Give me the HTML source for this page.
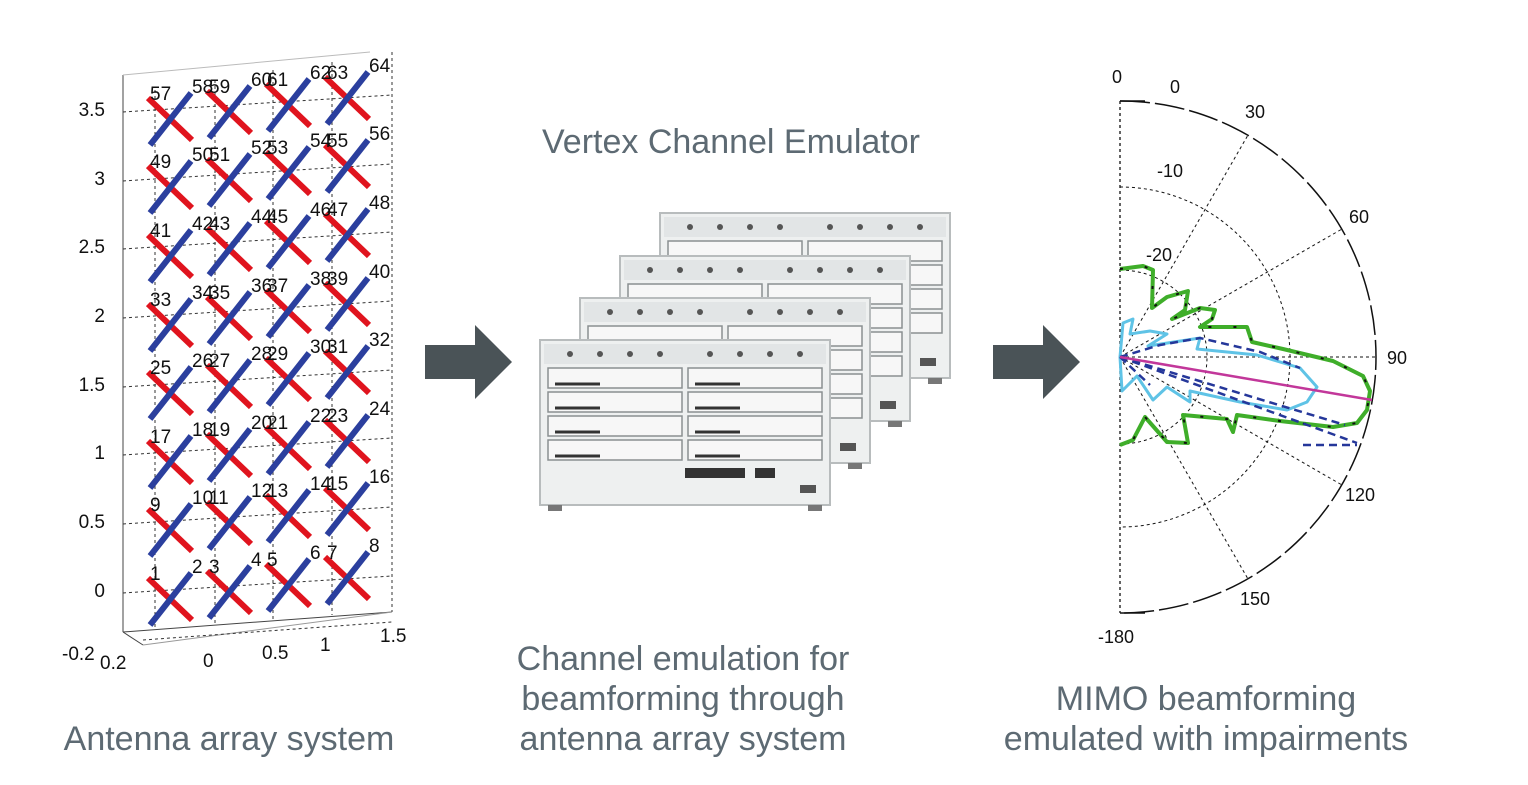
<!DOCTYPE html>
<html><head><meta charset="utf-8"><style>
html,body{margin:0;padding:0;background:#fff;}
svg{display:block;}
.cap{font-family:"Liberation Sans",sans-serif;fill:#5d6a73;font-size:34px;}
.ax{font-family:"Liberation Sans",sans-serif;fill:#111;font-size:19px;}
.pl{font-family:"Liberation Sans",sans-serif;fill:#111;font-size:18px;}
</style></head><body>
<svg width="1528" height="785" viewBox="0 0 1528 785" xmlns="http://www.w3.org/2000/svg">
<defs>
<g id="x">
<line x1="-22" y1="-21" x2="22" y2="21" stroke="#e0141e" stroke-width="6"/>
<line x1="-20" y1="26" x2="21" y2="-26" stroke="#2b3f9e" stroke-width="6"/>
</g>
<g id="chassis">
<rect x="0" y="0" width="290" height="165" fill="#eef0f0" stroke="#b8bcbd" stroke-width="2"/>
<rect x="4" y="4" width="282" height="20" fill="#e2e5e6"/>
<g stroke="#8a8f91" stroke-width="1.5" fill="#f7f7f7">
<rect x="8" y="28" width="134" height="20"/><rect x="148" y="28" width="134" height="20"/>
<rect x="8" y="52" width="134" height="20"/><rect x="148" y="52" width="134" height="20"/>
<rect x="8" y="76" width="134" height="20"/><rect x="148" y="76" width="134" height="20"/>
<rect x="8" y="100" width="134" height="20"/><rect x="148" y="100" width="134" height="20"/>
</g>
<g fill="#555"><circle cx="30" cy="14" r="3"/><circle cx="60" cy="14" r="3"/><circle cx="90" cy="14" r="3"/><circle cx="120" cy="14" r="3"/><circle cx="170" cy="14" r="3"/><circle cx="200" cy="14" r="3"/><circle cx="230" cy="14" r="3"/><circle cx="260" cy="14" r="3"/></g>
<g stroke="#333" stroke-width="3"><line x1="15" y1="44" x2="60" y2="44"/><line x1="155" y1="44" x2="200" y2="44"/><line x1="15" y1="68" x2="60" y2="68"/><line x1="155" y1="68" x2="200" y2="68"/><line x1="15" y1="92" x2="60" y2="92"/><line x1="155" y1="92" x2="200" y2="92"/><line x1="15" y1="116" x2="60" y2="116"/><line x1="155" y1="116" x2="200" y2="116"/></g>
<rect x="145" y="128" width="60" height="10" fill="#333"/><rect x="215" y="128" width="20" height="10" fill="#333"/>
<rect x="260" y="145" width="16" height="8" fill="#555"/>
<rect x="8" y="165" width="14" height="6" fill="#777"/><rect x="268" y="165" width="14" height="6" fill="#777"/>
</g>
</defs>

<g stroke="#444" stroke-width="1" fill="none">
<line x1="123" y1="75" x2="123" y2="632"/>
<line x1="123" y1="632" x2="392" y2="612"/>
<line x1="143" y1="645" x2="392" y2="612" stroke="#999"/>
<line x1="123" y1="632" x2="143" y2="645"/>
<line x1="123" y1="75" x2="370" y2="52" stroke="#bbb"/>
</g>
<g stroke="#333" stroke-width="1" stroke-dasharray="3,3" fill="none">
<line x1="155" y1="90" x2="155" y2="630"/><line x1="215" y1="80" x2="215" y2="625"/>
<line x1="273" y1="70" x2="273" y2="620"/><line x1="332" y1="62" x2="332" y2="615"/>
<line x1="392" y1="52" x2="392" y2="612"/>
<line x1="123" y1="112" x2="392" y2="95"/><line x1="123" y1="181" x2="392" y2="164"/>
<line x1="123" y1="249" x2="392" y2="232"/><line x1="123" y1="318" x2="392" y2="301"/>
<line x1="123" y1="387" x2="392" y2="370"/><line x1="123" y1="455" x2="392" y2="438"/>
<line x1="123" y1="524" x2="392" y2="507"/><line x1="123" y1="593" x2="392" y2="576"/>
<line x1="143" y1="640" x2="392" y2="622"/>
</g>
<g class="ax" text-anchor="end">
<text x="105" y="116">3.5</text><text x="105" y="185">3</text><text x="105" y="253">2.5</text>
<text x="105" y="322">2</text><text x="105" y="391">1.5</text><text x="105" y="459">1</text>
<text x="105" y="528">0.5</text><text x="105" y="597">0</text>
</g>
<g class="ax">
<text x="62" y="660">-0.2</text><text x="100" y="669">0.2</text><text x="203" y="667">0</text>
<text x="262" y="659">0.5</text><text x="320" y="651">1</text><text x="380" y="642">1.5</text>
</g>
<g>
<use href="#x" x="170" y="599"/><use href="#x" x="229" y="592"/><use href="#x" x="288" y="585"/><use href="#x" x="347" y="578"/>
<use href="#x" x="170" y="530"/><use href="#x" x="229" y="523"/><use href="#x" x="288" y="516"/><use href="#x" x="347" y="509"/>
<use href="#x" x="170" y="462"/><use href="#x" x="229" y="455"/><use href="#x" x="288" y="448"/><use href="#x" x="347" y="441"/>
<use href="#x" x="170" y="393"/><use href="#x" x="229" y="386"/><use href="#x" x="288" y="379"/><use href="#x" x="347" y="372"/>
<use href="#x" x="170" y="325"/><use href="#x" x="229" y="318"/><use href="#x" x="288" y="311"/><use href="#x" x="347" y="304"/>
<use href="#x" x="170" y="256"/><use href="#x" x="229" y="249"/><use href="#x" x="288" y="242"/><use href="#x" x="347" y="235"/>
<use href="#x" x="170" y="187"/><use href="#x" x="229" y="180"/><use href="#x" x="288" y="173"/><use href="#x" x="347" y="166"/>
<use href="#x" x="170" y="119"/><use href="#x" x="229" y="112"/><use href="#x" x="288" y="105"/><use href="#x" x="347" y="98"/>
</g>
<g class="ax" font-size="18">
<text x="150" y="580">1</text><text x="192" y="573">2</text><text x="209" y="573">3</text><text x="251" y="566">4</text><text x="267" y="566">5</text><text x="310" y="559">6</text><text x="327" y="559">7</text><text x="369" y="552">8</text>
<text x="150" y="511">9</text><text x="192" y="504">10</text><text x="209" y="504">11</text><text x="251" y="497">12</text><text x="267" y="497">13</text><text x="310" y="490">14</text><text x="327" y="490">15</text><text x="369" y="483">16</text>
<text x="150" y="443">17</text><text x="192" y="436">18</text><text x="209" y="436">19</text><text x="251" y="429">20</text><text x="267" y="429">21</text><text x="310" y="422">22</text><text x="327" y="422">23</text><text x="369" y="415">24</text>
<text x="150" y="374">25</text><text x="192" y="367">26</text><text x="209" y="367">27</text><text x="251" y="360">28</text><text x="267" y="360">29</text><text x="310" y="353">30</text><text x="327" y="353">31</text><text x="369" y="346">32</text>
<text x="150" y="306">33</text><text x="192" y="299">34</text><text x="209" y="299">35</text><text x="251" y="292">36</text><text x="267" y="292">37</text><text x="310" y="285">38</text><text x="327" y="285">39</text><text x="369" y="278">40</text>
<text x="150" y="237">41</text><text x="192" y="230">42</text><text x="209" y="230">43</text><text x="251" y="223">44</text><text x="267" y="223">45</text><text x="310" y="216">46</text><text x="327" y="216">47</text><text x="369" y="209">48</text>
<text x="150" y="168">49</text><text x="192" y="161">50</text><text x="209" y="161">51</text><text x="251" y="154">52</text><text x="267" y="154">53</text><text x="310" y="147">54</text><text x="327" y="147">55</text><text x="369" y="140">56</text>
<text x="150" y="100">57</text><text x="192" y="93">58</text><text x="209" y="93">59</text><text x="251" y="86">60</text><text x="267" y="86">61</text><text x="310" y="79">62</text><text x="327" y="79">63</text><text x="369" y="72">64</text>
</g>

<polygon points="425,345 475,345 475,325 512,362 475,399 475,379 425,379" fill="#4a5357"/>
<polygon points="993,345 1043,345 1043,325 1080,362 1043,399 1043,379 993,379" fill="#4a5357"/>

<use href="#chassis" x="660" y="213"/>
<use href="#chassis" x="620" y="256"/>
<use href="#chassis" x="580" y="298"/>
<use href="#chassis" x="540" y="340"/>

<g fill="none">
<path d="M1120 101 A256 256 0 0 1 1120 613" stroke="#111" stroke-width="1.5" stroke-dasharray="30,5"/>
<line x1="1120" y1="101" x2="1120" y2="613" stroke="#111" stroke-width="1.3" stroke-dasharray="3,3"/>
<line x1="1120" y1="101" x2="1145" y2="101" stroke="#111" stroke-width="1.5"/>
<line x1="1120" y1="613" x2="1145" y2="613" stroke="#111" stroke-width="1.5"/>
<g stroke="#111" stroke-width="1" stroke-dasharray="3,3">
<path d="M1120 187 A170 170 0 0 1 1120 527"/>
<path d="M1120 270 A87 87 0 0 1 1120 444"/>
<line x1="1120" y1="357" x2="1248" y2="135"/>
<line x1="1120" y1="357" x2="1342" y2="229"/>
<line x1="1120" y1="357" x2="1376" y2="357"/>
<line x1="1120" y1="357" x2="1342" y2="485"/>
<line x1="1120" y1="357" x2="1248" y2="579"/>
</g>
<path d="M1120 269 L1143 266 L1153 270 L1152 308 L1167 297 L1188 291 L1185 310 L1172 319 L1200 308 L1215 310 L1212 319 L1200 327 L1247 327 L1252 342 L1283 349 L1333 361 L1363 376 L1370 391 L1367 410 L1357 423 L1333 427 L1280 421 L1237 415 L1233 432 L1227 419 L1183 415 L1188 443 L1167 442 L1145 417 L1133 440 L1120 445" stroke="#3fae2a" stroke-width="4" stroke-linejoin="round"/>
<path d="M1120 269 L1143 266 L1153 270 L1152 308 L1167 297 L1188 291 L1185 310 L1172 319 L1200 308 L1215 310 L1212 319 L1200 327 L1247 327 L1252 342 L1283 349 L1333 361 L1363 376 L1370 391 L1367 410 L1357 423 L1333 427 L1280 421 L1237 415 L1233 432 L1227 419 L1183 415 L1188 443 L1167 442 L1145 417 L1133 440 L1120 445" stroke="#111" stroke-width="2" stroke-dasharray="3,22"/>
<path d="M1120 357 L1123 323 L1133 319 L1130 334 L1150 331 L1167 334 L1148 346 L1200 338 L1197 349 L1257 355 L1300 368 L1317 387 L1307 402 L1287 410 L1240 402 L1190 391 L1190 402 L1167 387 L1153 400 L1137 376 L1122 391 Z" stroke="#5fc3e6" stroke-width="3" stroke-linejoin="round"/>
<g stroke="#25379a" stroke-width="2.5" stroke-dasharray="8,5">
<line x1="1120" y1="357" x2="1357" y2="443"/>
<line x1="1120" y1="357" x2="1345" y2="425"/>
<line x1="1303" y1="445" x2="1357" y2="445"/>
<path d="M1120 357 L1160 345 L1200 338 L1260 352 L1300 368"/>
<line x1="1120" y1="357" x2="1150" y2="385"/>
</g>
<line x1="1120" y1="357" x2="1372" y2="400" stroke="#c2379a" stroke-width="2.5"/>
</g>
<g class="pl">
<text x="1112" y="83">0</text><text x="1170" y="93">0</text><text x="1245" y="118">30</text>
<text x="1157" y="177">-10</text><text x="1349" y="223">60</text><text x="1146" y="261">-20</text>
<text x="1387" y="364">90</text><text x="1345" y="501">120</text><text x="1240" y="605">150</text>
<text x="1098" y="643">-180</text>
</g>

<text class="cap" x="731" y="153" text-anchor="middle" font-size="32">Vertex Channel Emulator</text>
<text class="cap" x="229" y="750" text-anchor="middle">Antenna array system</text>
<text class="cap" x="683" y="670" text-anchor="middle">Channel emulation for</text>
<text class="cap" x="683" y="710" text-anchor="middle">beamforming through</text>
<text class="cap" x="683" y="750" text-anchor="middle">antenna array system</text>
<text class="cap" x="1206" y="710" text-anchor="middle">MIMO beamforming</text>
<text class="cap" x="1206" y="750" text-anchor="middle">emulated with impairments</text>
</svg>
</body></html>
